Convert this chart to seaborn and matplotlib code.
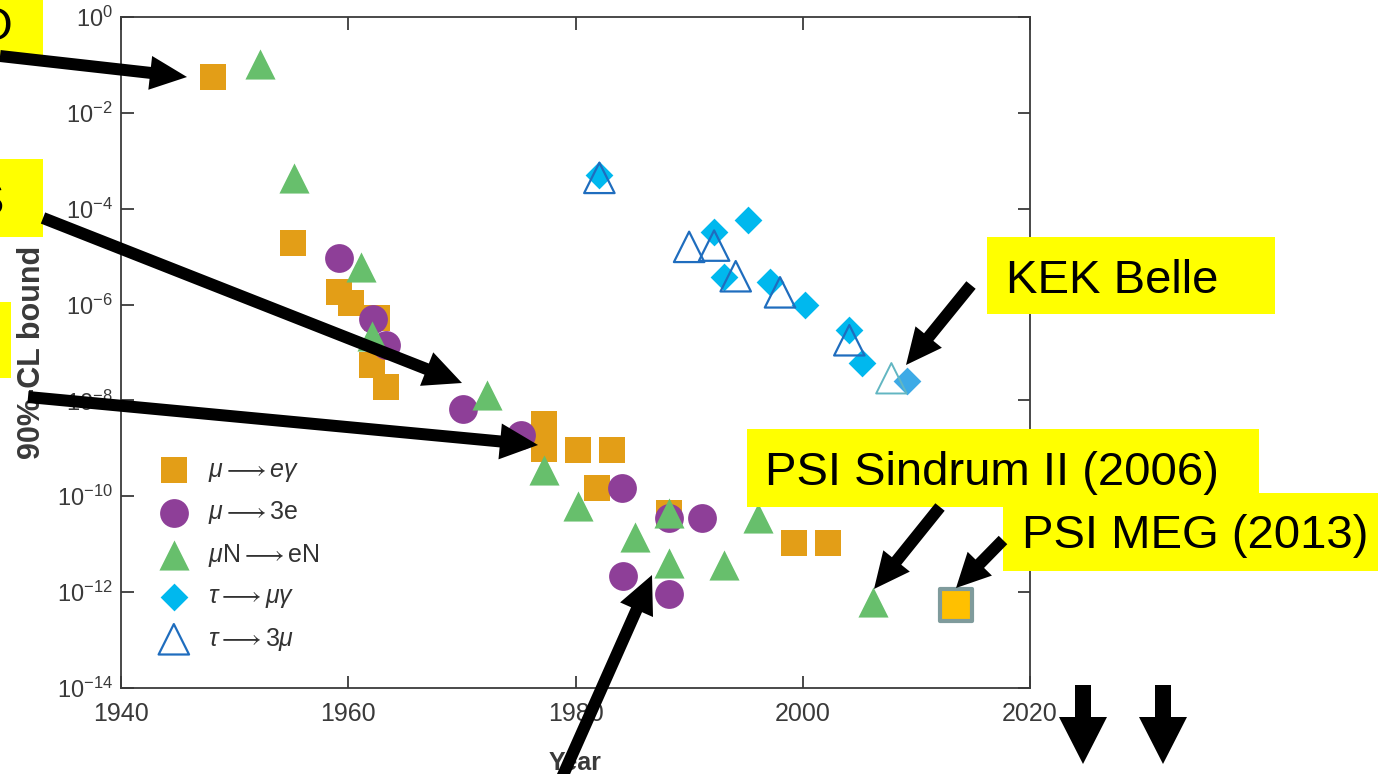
import numpy as np
import pandas as pd
import matplotlib
matplotlib.use("Agg")
import matplotlib.pyplot as plt
import matplotlib.ticker as mticker
from matplotlib.patches import Rectangle, FancyArrow
from matplotlib.transforms import Affine2D
import seaborn as sns

W, H = 1378, 774

# mu -> e gamma
mueg_year = [1948.1, 1955.1, 1959.2, 1960.2, 1962.5, 1962.1, 1963.3, 1977.2, 1977.2,
             1980.2, 1983.2, 1981.9, 1988.2, 1999.2, 2002.2]
mueg_bound = [5.6e-2, 1.9e-5, 1.8e-6, 1.1e-6, 5.2e-7, 5.4e-8, 1.9e-8, 3.3e-9, 9.6e-10,
              9.1e-10, 9.1e-10, 1.5e-10, 4.4e-11, 1.05e-11, 1.05e-11]

# mu -> 3e
mu3e_year = [1959.2, 1962.2, 1963.3, 1970.1, 1975.2, 1984.1, 1988.2, 1991.1, 1984.2, 1988.2]
mu3e_bound = [9.3e-6, 5.0e-7, 1.4e-7, 6.6e-9, 1.9e-9, 1.5e-10, 3.5e-11, 3.5e-11, 2.2e-12, 9.0e-13]

# mu N -> e N
mueN_year = [1952.2, 1955.2, 1961.1, 1962.1, 1972.2, 1977.2, 1980.2, 1988.2, 1985.2,
             1988.2, 1993.1, 1996.1, 2006.2]
mueN_bound = [1.05e-1, 4.4e-4, 6.0e-6, 2.2e-7, 1.3e-8, 3.5e-10, 6.2e-11, 4.4e-11, 1.4e-11,
              4.0e-12, 3.6e-12, 3.6e-11, 6.1e-13]

# tau -> mu gamma
taumug_year = [1982.1, 1992.2, 1995.2, 1993.1, 1997.1, 2000.2, 2004.1, 2005.2]
taumug_bound = [5.0e-4, 3.2e-5, 5.8e-5, 3.7e-6, 2.9e-6, 9.8e-7, 2.9e-7, 6.0e-8]

# tau -> 3 mu
tau3mu_year = [1982.1, 1990.0, 1992.2, 1994.1, 1998.0, 2004.1]
tau3mu_bound = [4.4e-4, 1.6e-5, 1.7e-5, 3.9e-6, 1.8e-6, 1.8e-7]

# highlighted recent results
kek_mug_year, kek_mug_bound = [2009.2], [2.6e-8]
kek_3mu_year, kek_3mu_bound = [2007.8], [2.9e-8]
meg_year, meg_bound = [2013.5], [5.3e-13]

labels = [r"$\mu \longrightarrow e\gamma$", r"$\mu \longrightarrow \mathrm{3e}$",
          r"$\mu\mathrm{N} \longrightarrow \mathrm{eN}$", r"$\tau \longrightarrow \mu\gamma$",
          r"$\tau \longrightarrow \mathrm{3}\mu$"]

sns.set_style("ticks")
plt.rcParams["font.family"] = ["Liberation Sans", "DejaVu Sans"]
plt.rcParams["mathtext.fontset"] = "custom"
plt.rcParams["mathtext.rm"] = "Liberation Sans"
plt.rcParams["mathtext.it"] = "Liberation Sans:italic"
plt.rcParams["mathtext.bf"] = "Liberation Sans:bold"

fig = plt.figure(figsize=(W / 100, H / 100), dpi=100)
ax = fig.add_axes([121 / W, 1 - 688 / H, 909 / W, 671 / H])
ax.set_yscale("log")


def scatter(years, bounds, **kw):
    df = pd.DataFrame({"year": years, "bound": bounds})
    sns.scatterplot(data=df, x="year", y="bound", ax=ax, **kw)


scatter(mueg_year, mueg_bound, marker="s", s=330, color="#E39E17", linewidth=0, label=labels[0], zorder=3)
scatter(mu3e_year, mu3e_bound, marker="o", s=430, color="#8E3F98", linewidth=0, label=labels[1], zorder=4)
scatter(mueN_year, mueN_bound, marker="^", s=470, color="#67BF6C", linewidth=0, label=labels[2], zorder=5)
scatter(taumug_year, taumug_bound, marker="D", s=200, color="#00B8EE", linewidth=0, label=labels[3], zorder=6)
scatter(tau3mu_year, tau3mu_bound, marker="^", s=480, facecolor="none", edgecolor="#1F6DBE",
        linewidth=1.6, label=labels[4], zorder=7)
scatter(kek_mug_year, kek_mug_bound, marker="D", s=200, color="#3DAAE6", linewidth=0, zorder=6)
scatter(kek_3mu_year, kek_3mu_bound, marker="^", s=480, facecolor="none", edgecolor="#62B6C2",
        linewidth=1.4, zorder=7)
scatter(meg_year, meg_bound, marker="s", s=560, color="#FFC000", edgecolor="#7F9B9C",
        linewidth=3, zorder=8)

ax.set_xlim(1940, 2020)
ax.set_ylim(1e-14, 1)
ax.xaxis.set_major_locator(mticker.FixedLocator([1940, 1960, 1980, 2000, 2020]))
ax.yaxis.set_major_locator(mticker.FixedLocator([10.0 ** k for k in range(0, -15, -2)]))
ax.yaxis.set_minor_locator(mticker.NullLocator())
ax.yaxis.set_major_formatter(mticker.FuncFormatter(lambda v, p: r"$10^{%d}$" % round(np.log10(v))))

ax.tick_params(direction="in", length=9, width=1.3, top=True, right=True,
               labelcolor="#3a3a3a", color="#3a3a3a")
ax.tick_params(axis="x", pad=10, labelsize=18)
ax.tick_params(axis="y", pad=6, labelsize=17)
for sp in ax.spines.values():
    sp.set_color("#3a3a3a")
    sp.set_linewidth(1.3)

ax.set_ylabel("90%-CL bound", fontsize=22, fontweight="bold", color="#3a3a3a", va="center")
ax.yaxis.set_label_coords(-0.098, 0.5)
ax.set_xlabel("Year", fontsize=18, fontweight="bold", color="#3a3a3a", va="baseline")
ax.xaxis.set_label_coords(0.5, -0.122)

leg = ax.legend(loc="upper left", bbox_to_anchor=(0.043, 0.343), frameon=False, fontsize=18,
                handlelength=1.1, handletextpad=0.8, labelspacing=0.62, borderpad=0,
                borderaxespad=0, scatterpoints=1)
for t in leg.get_texts():
    t.set_color("#333333")

# slide overlay: yellow boxes, labels and arrows, in pixel coordinates
px = Affine2D().scale(1 / W, -1 / H).translate(0, 1) + fig.transFigure

boxes = [(0, 0, 43, 55), (0, 159, 43, 78), (0, 302, 11, 76),
         (987, 237, 288, 77), (747, 429, 512, 78), (1003, 493, 375, 78)]
for x0, y0, w, h in boxes:
    fig.add_artist(Rectangle((x0, y0), w, h, transform=px, facecolor="#FFFF00",
                             edgecolor="none", zorder=5))

notes = [("O", 12, 40, "right"), ("S", 4, 215, "right"),
         ("KEK Belle", 1006, 293, "left"), ("PSI Sindrum II (2006)", 765, 485, "left"),
         ("PSI MEG (2013)", 1022, 548, "left")]
for txt, x, y, ha in notes:
    fig.text(x / W, 1 - y / H, txt, fontsize=34, family="Liberation Sans", color="black",
             ha=ha, va="baseline", zorder=6)

arrows = [((0, 56), (187, 77), 12, 34, 37),
          ((43, 218), (462, 383), 12, 36, 38),
          ((28, 397), (538, 445), 12, 36, 38),
          ((552, 800), (652, 575), 12, 36, 38),
          ((971, 285), (906, 365), 12, 34, 36),
          ((940, 507), (874, 589), 12, 34, 36),
          ((1003, 540), (956, 588), 12, 34, 34),
          ((1083, 685), (1083, 764), 16, 48, 47),
          ((1163, 685), (1163, 764), 16, 48, 47)]
for (x0, y0), (x1, y1), w, hw, hl in arrows:
    fig.add_artist(FancyArrow(x0, y0, x1 - x0, y1 - y0, width=w, head_width=hw,
                              head_length=hl, length_includes_head=True, transform=px,
                              facecolor="black", edgecolor="none", zorder=7))

fig.savefig("out.png", dpi=100)
